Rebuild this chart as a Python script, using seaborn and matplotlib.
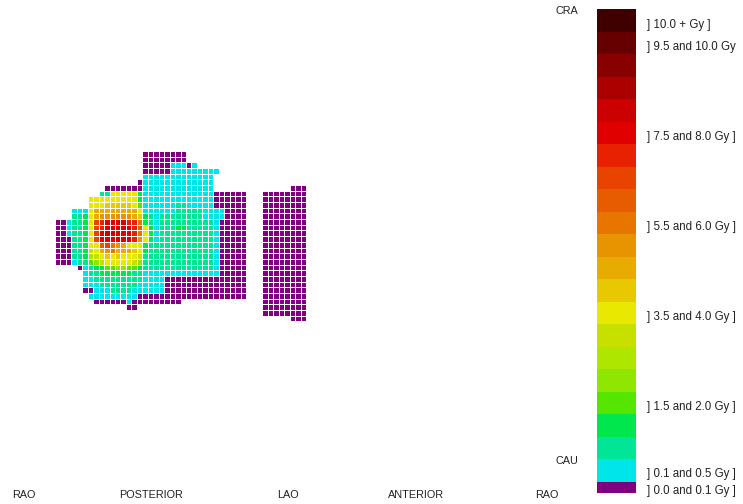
#!/usr/bin/python3
"""
Dose map of the skin surface with the dose scale on the right
"""
import numpy as np
import matplotlib.pyplot as plt
from matplotlib.colors import ListedColormap
import seaborn as sns

# one letter per cell, a = lowest dose level ... v = highest, . = no dose
levels = 'abcdefghijklmnopqrstuv'
colours = ['#800080', '#00E5E8', '#00E696', '#00E64D', '#55E600', '#8FE600', '#AEE600', '#C8E000',
           '#E8E800', '#E8C800', '#E8AC00', '#E89400', '#E87500', '#E85C00', '#E84400', '#E82200',
           '#E00000', '#CC0000', '#AA0000', '#880000', '#660000', '#400000']

dose_rows = [
    '................aaaaaaaa',
    '................aaaaaaaa',
    '................aaaaabbbab',
    '................aaaaabbbbbbbbb',
    '................bbbbbbbbbbbbb',
    '...............abbbbbbbbbbbbb',
    '.........aaaaaaabbbbbbbbbbbbb..............aaa',
    '........cciiiiidbbbbbbbbbbbbbaaaaaa...aaaaaaaa',
    '......iiiiiiiiidbbbbbbbbbbbbbaaaaaa...aaaaaaaa',
    '......iiijjjjjiebbbbbbccbbbbbaaaaaa...aaaaaaaa',
    '...bbbikkkkkkkkibbbbbbcccccbbbbaaaa...aaaaaaaa',
    '...ccdikllllllkjdcbccccccccbbbbaaaa...aaaaaaaa',
    'aabccdiopqqqqppmdcbccccccccccbaaaaa...aaaaaaaa',
    'aabccdiopqqqqqpnidbcccddcccccbaaaaa...aaaaaaaa',
    'aabccdioqrrqqqpmidbccccccccccbaaaaa...aaaaaaaa',
    'aaaccdioqqqqqqplidbccccccccccbaaaaa...aaaaaaaa',
    'aaaccdiinomlkiiidcccccccccccc' + 'baaaaa...aaaaaaaa',
    'aaaccdhiklmkkkjidcccccccccccc' + 'baaaaa...aaaaaaaa',
    'aaaccdghijijiiihccccccccccccc' + 'baaaaa...aaaaaaaa',
    'aaabccefhiiiiihfccccccccccccc' + 'baaaaa...aaaaaaaa',
    '....abcddeeffeedccccccccccccc' + 'baaaaa...aaaaaaaa',
    '.....bccddddddccbbbbbbbbbbbbbbaaaaa...aaaaaaaa',
    '.....bbcccccccccbbbbaaaaaaaaaaaaaaa...aaaaaaaa',
    '.....bbbcccccccbbbbbaaaaaaaaaaaaaaa...aaaaaaaa',
    '.....aabbbccccbbbbbbaaaaaaaaaaaaaaa...aaaaaaaa',
    '......bbbbbbbbbaaaaaaaaaaaaaaaaaaaa...aaaaaaaa',
    '.......aaaaaabaaaaaaaaa...............aaaaaaaa',
    '.............aa.......................aaaaaaaa',
    '......................................aaaaaaaa',
    '...........................................aaa',
]

scale_labels = ['] 10.0 + Gy ]', '] 9.5 and 10.0 Gy', '] 7.5 and 8.0 Gy ]', '] 5.5 and 6.0 Gy ]',
                '] 3.5 and 4.0 Gy ]', '] 1.5 and 2.0 Gy ]', '] 0.1 and 0.5 Gy ]', '] 0.0 and 0.1 Gy ]']
scale_levels = [21, 20, 16, 12, 8, 4, 1, 0]

view_labels = ['RAO', 'POSTERIOR', 'LAO', 'ANTERIOR', 'RAO']
view_x = [12, 119, 277, 388, 535]

W, H = 743, 504


def px_axes(fig, left, top, right, bottom):
    return fig.add_axes([left / W, 1 - bottom / H, (right - left) / W, (bottom - top) / H])


grid = np.full((len(dose_rows), 46), np.nan)
for r, row in enumerate(dose_rows):
    for c, ch in enumerate(row):
        if ch != '.':
            grid[r, c] = levels.index(ch)

cmap = ListedColormap(colours)

sns.set_style("white")
plt.rcParams['font.family'] = ['Liberation Sans', 'DejaVu Sans']

fig = plt.figure(figsize=(W / 100, H / 100), dpi=100)

ax = px_axes(fig, 55, 151, 306, 321.3)
sns.heatmap(grid, ax=ax, cmap=cmap, vmin=-0.5, vmax=21.5, cbar=False, linewidths=0.65, linecolor='white',
            xticklabels=False, yticklabels=False)

# top bands get two rows each so the purple one comes out half as tall
scale = np.repeat(np.arange(21, -1, -1), [2] * 21 + [1]).reshape(-1, 1)
ax_scale = px_axes(fig, 597.3, 9.3, 636.3, 493)
sns.heatmap(scale, ax=ax_scale, cmap=cmap, vmin=-0.5, vmax=21.5, cbar=False, xticklabels=False)
ticks = [(21 - lv) * 2 + 1.22 if lv > 0 else 42.72 for lv in scale_levels]
ax_scale.yaxis.tick_right()
ax_scale.set_yticks(ticks)
ax_scale.set_yticklabels(scale_labels, rotation=0, fontsize=8.3, color='#222222')
ax_scale.tick_params(axis='y', length=0, pad=7.6)

for label, x in zip(view_labels, view_x):
    fig.text(x / W, 1 - 495.5 / H, label, fontsize=7.8, color='#222222', va='center')
fig.text(556 / W, 1 - 11.5 / H, 'CRA', fontsize=7.8, color='#222222', va='center')
fig.text(556 / W, 1 - 461 / H, 'CAU', fontsize=7.8, color='#222222', va='center')

plt.savefig('out.png', dpi=100, facecolor='white')
